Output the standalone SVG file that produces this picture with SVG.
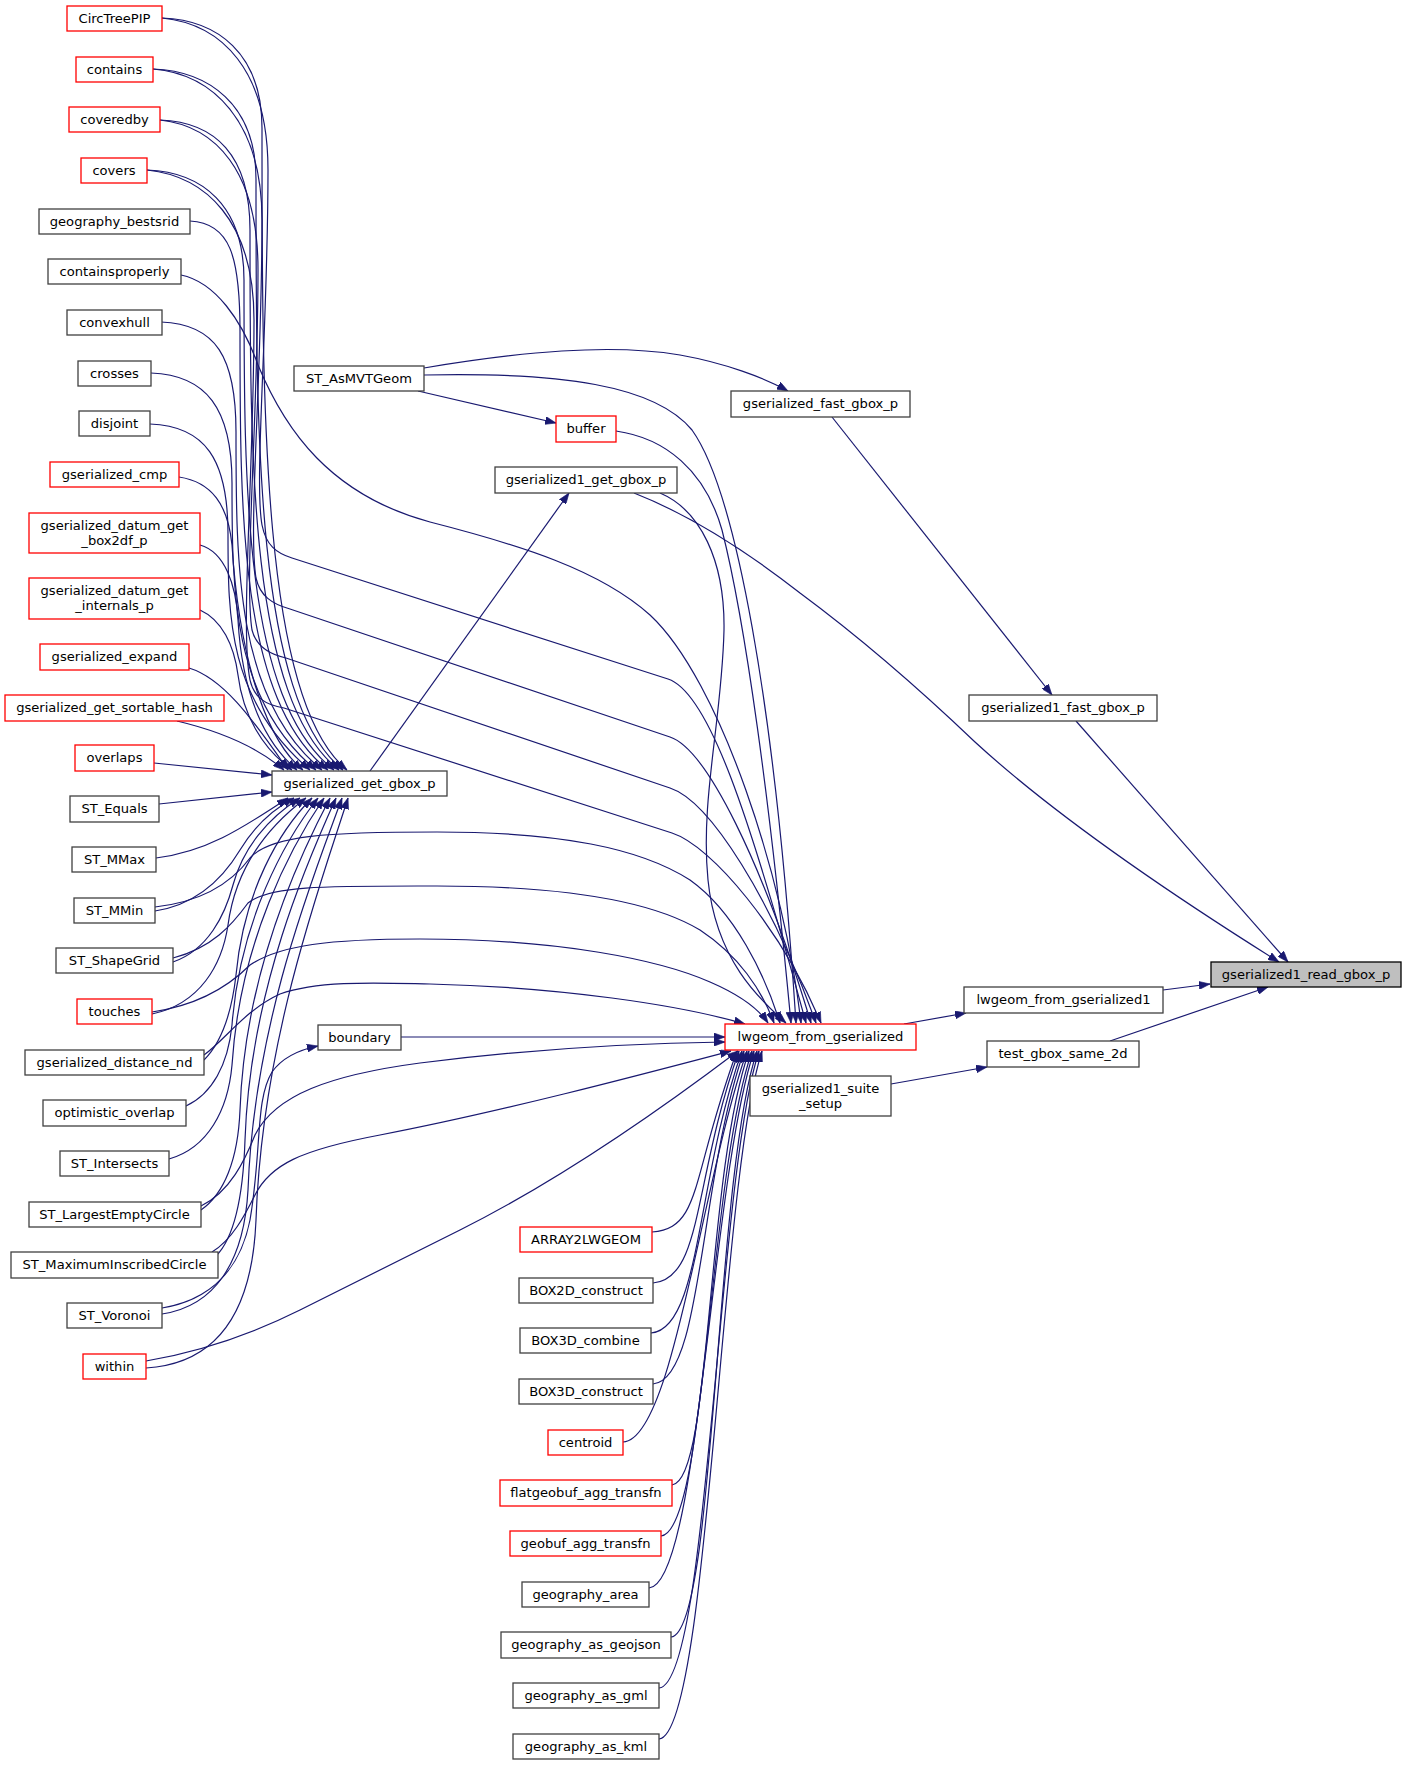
<svg xmlns="http://www.w3.org/2000/svg" width="1407" height="1765" viewBox="0 0 1407 1765">
<style>
.e{fill:none;stroke:#191970;stroke-width:1.2;marker-end:url(#ah)}
.n rect{fill:#fff;stroke:#404040;stroke-width:1.3}
.r rect{stroke:#ff0000}
.root rect{fill:#bfbfbf;stroke:#000}
text{font-family:"DejaVu Sans","Liberation Sans",sans-serif;font-size:13.1px;text-anchor:middle;fill:#000}
</style>
<defs>
<marker id="ah" markerWidth="11" markerHeight="8" refX="11" refY="4" orient="auto" markerUnits="userSpaceOnUse"><path d="M0,0 L11,4 L0,8 z" fill="#191970" stroke="#191970" stroke-width="0.6"/></marker>
</defs>
<rect width="1407" height="1765" fill="#fff"/>
<g id="edges">
<path class="e" d="M 162,18 C 217,20 262,53 262,128 C 262,414 262,700 347,770"/>
<path class="e" d="M 153,69 C 208,71 256,104 256,179 C 256,440 256,700 343,770"/>
<path class="e" d="M 160,120 C 215,122 250,155 250,230 C 250,465 250,700 339,770"/>
<path class="e" d="M 147,170 C 202,172 244,205 244,280 C 244,490 244,700 334,770"/>
<path class="e" d="M 190,221 C 230,223 240,256 240,331 C 240,515 240,700 328,770"/>
<path class="e" d="M 161,322 C 216,324 236,357 236,432 C 236,566 236,700 322,770"/>
<path class="e" d="M 151,373 C 206,375 232,408 232,483 C 232,591 232,700 316,770"/>
<path class="e" d="M 150,424 C 205,426 228,459 228,534 C 228,617 228,700 310,770"/>
<path class="e" d="M 179,477 C 212,482 228,505 232,545 C 238,640 260,735 303,770"/>
<path class="e" d="M 200,545 C 225,552 236,585 238,620 C 242,690 262,740 297,770"/>
<path class="e" d="M 200,610 C 222,620 234,645 238,675 C 243,715 262,748 292,770"/>
<path class="e" d="M 189,668 C 222,678 250,715 288,770"/>
<path class="e" d="M 177,721 C 215,730 255,745 284,770"/>
<path class="e" d="M 154,763 L 272,775"/>
<path class="e" d="M 159,804 L 272,792"/>
<path class="e" d="M 162,18 C 222,24 268,70 268,170 C 268,330 254,480 262,525 C 266,545 276,553 292,558 L 668,679 C 708,692 748,810 806,1023"/>
<path class="e" d="M 153,69 C 212,74 262,120 262,220 C 262,380 248,530 256,578 C 260,596 272,604 290,609 L 670,737 C 706,749 762,860 811,1023"/>
<path class="e" d="M 160,120 C 215,126 258,170 258,270 C 258,420 244,580 252,630 C 256,646 268,654 286,658 L 670,788 C 710,801 772,900 816,1023"/>
<path class="e" d="M 147,170 C 205,176 254,220 254,320 C 254,470 240,630 250,680 C 254,698 266,705 284,708 L 672,833 C 712,846 782,930 821,1023"/>
<path class="e" d="M 181,275 C 215,282 242,320 258,365 C 285,430 330,495 430,522 C 520,545 600,570 650,615 C 720,680 785,880 801,1023"/>
<path class="e" d="M 424,368 C 520,352 610,343 680,355 C 725,363 765,378 788,391"/>
<path class="e" d="M 418,391 L 556,423"/>
<path class="e" d="M 424,375 C 560,372 655,385 692,430 C 735,490 775,700 796,1023"/>
<path class="e" d="M 616,431 C 665,438 705,470 722,530 C 745,620 770,800 791,1023"/>
<path class="e" d="M 660,493 C 700,510 725,560 724,630 C 722,720 700,800 708,880 C 716,960 760,1000 786,1023"/>
<path class="e" d="M 634,493 C 690,515 745,550 800,593 C 850,630 910,680 975,742 C 1060,820 1180,900 1279,962"/>
<path class="e" d="M 370,771 L 569,493"/>
<path class="e" d="M 832,417 L 1052,695"/>
<path class="e" d="M 1076,721 L 1288,962"/>
<path class="e" d="M 1163,990 L 1210,984"/>
<path class="e" d="M 1110,1041 L 1268,987"/>
<path class="e" d="M 904,1024 L 966,1013"/>
<path class="e" d="M 891,1084 L 987,1067"/>
<path class="e" d="M 401,1037 L 725,1037"/>
<path class="e" d="M 155,907 C 200,902 230,885 250,858 C 270,835 330,832 437,832 C 560,832 640,848 690,880 C 735,912 765,975 780,1023"/>
<path class="e" d="M 173,958 C 212,948 232,925 248,903 C 270,885 330,886 437,886 C 560,886 650,900 700,930 C 738,955 762,990 774,1023"/>
<path class="e" d="M 152,1012 C 200,1005 230,985 250,965 C 280,945 330,939 420,939 C 560,939 660,960 710,982 C 740,995 758,1008 768,1023"/>
<path class="e" d="M 204,1055 C 225,1040 245,1010 280,994 C 320,980 380,983 430,984 C 560,987 680,1005 745,1024"/>
<path class="e" d="M 201,1206 C 230,1192 245,1160 255,1135 C 275,1095 330,1075 420,1063 C 540,1048 640,1043 725,1042"/>
<path class="e" d="M 212,1252 C 232,1240 245,1215 255,1195 C 270,1165 300,1150 380,1135 C 500,1112 640,1075 731,1051"/>
<path class="e" d="M 146,1361 C 210,1350 260,1330 300,1310 L 460,1230 C 560,1180 660,1110 738,1051"/>
<path class="e" d="M 162,1308 C 210,1300 240,1270 250,1220 C 262,1150 255,1100 272,1072 C 282,1058 298,1050 318,1046"/>
<path class="e" d="M 156,858 C 205,852 240,830 288,798"/>
<path class="e" d="M 155,911 C 200,904 225,875 240,850 C 252,830 268,812 294,798"/>
<path class="e" d="M 173,962 C 208,950 225,915 233,885 C 243,848 268,818 300,798"/>
<path class="e" d="M 152,1014 C 200,1004 222,965 228,925 C 236,865 270,825 306,798"/>
<path class="e" d="M 204,1060 C 222,1042 232,1010 236,975 C 244,890 280,830 312,798"/>
<path class="e" d="M 186,1106 C 212,1094 228,1065 232,1025 C 240,920 285,840 318,798"/>
<path class="e" d="M 169,1159 C 208,1148 228,1110 232,1065 C 240,940 292,845 324,798"/>
<path class="e" d="M 201,1210 C 224,1194 238,1160 240,1110 C 245,970 300,855 330,798"/>
<path class="e" d="M 216,1256 C 234,1238 243,1200 245,1140 C 250,990 308,860 336,798"/>
<path class="e" d="M 162,1314 C 215,1306 244,1262 248,1190 C 254,1020 316,870 342,798"/>
<path class="e" d="M 146,1368 C 212,1364 252,1320 256,1220 C 262,1040 322,880 348,798"/>
<path class="e" d="M 652,1232 C 702,1228 690,1180 737,1051"/>
<path class="e" d="M 653,1283 C 703,1279 693,1180 739,1051"/>
<path class="e" d="M 651,1333 C 701,1329 696,1180 742,1051"/>
<path class="e" d="M 653,1384 C 703,1380 699,1180 744,1051"/>
<path class="e" d="M 623,1442 C 673,1440 702,1180 747,1051"/>
<path class="e" d="M 672,1485 C 712,1481 705,1180 749,1051"/>
<path class="e" d="M 661,1536 C 706,1532 708,1180 752,1051"/>
<path class="e" d="M 649,1588 C 699,1584 711,1180 754,1051"/>
<path class="e" d="M 671,1637 C 716,1633 714,1180 757,1051"/>
<path class="e" d="M 659,1688 C 709,1684 717,1180 759,1051"/>
<path class="e" d="M 659,1739 C 709,1735 720,1180 762,1051"/>
</g>
<g id="n-CircTreePIP" class="n r"><rect x="67" y="6" width="95" height="25"/><text x="114.5" y="23">CircTreePIP</text></g>
<g id="n-contains" class="n r"><rect x="76" y="57" width="77" height="25"/><text x="114.5" y="74">contains</text></g>
<g id="n-coveredby" class="n r"><rect x="69" y="107" width="91" height="25"/><text x="114.5" y="124">coveredby</text></g>
<g id="n-covers" class="n r"><rect x="81" y="158" width="66" height="25"/><text x="114" y="175">covers</text></g>
<g id="n-geography_bestsrid" class="n"><rect x="39" y="209" width="151" height="25"/><text x="114.5" y="226">geography_bestsrid</text></g>
<g id="n-containsproperly" class="n"><rect x="48" y="259" width="133" height="25"/><text x="114.5" y="276">containsproperly</text></g>
<g id="n-convexhull" class="n"><rect x="67" y="310" width="95" height="25"/><text x="114.5" y="327">convexhull</text></g>
<g id="n-crosses" class="n"><rect x="78" y="361" width="73" height="25"/><text x="114.5" y="378">crosses</text></g>
<g id="n-disjoint" class="n"><rect x="79" y="411" width="71" height="25"/><text x="114.5" y="428">disjoint</text></g>
<g id="n-gserialized_cmp" class="n r"><rect x="50" y="462" width="129" height="25"/><text x="114.5" y="479">gserialized_cmp</text></g>
<g id="n-gserialized_datum_get_box2df_p" class="n r"><rect x="29" y="513" width="171" height="40"/><text x="114.5" y="529.5">gserialized_datum_get</text><text x="114.5" y="544.5">_box2df_p</text></g>
<g id="n-gserialized_datum_get_internals_p" class="n r"><rect x="29" y="578" width="171" height="41"/><text x="114.5" y="594.5">gserialized_datum_get</text><text x="114.5" y="609.5">_internals_p</text></g>
<g id="n-gserialized_expand" class="n r"><rect x="40" y="644" width="149" height="26"/><text x="114.5" y="661">gserialized_expand</text></g>
<g id="n-gserialized_get_sortable_hash" class="n r"><rect x="5" y="695" width="219" height="26"/><text x="114.5" y="712">gserialized_get_sortable_hash</text></g>
<g id="n-overlaps" class="n r"><rect x="75" y="745" width="79" height="26"/><text x="114.5" y="762">overlaps</text></g>
<g id="n-ST_Equals" class="n"><rect x="70" y="796" width="89" height="26"/><text x="114.5" y="813">ST_Equals</text></g>
<g id="n-ST_MMax" class="n"><rect x="72" y="847" width="84" height="25"/><text x="114.5" y="864">ST_MMax</text></g>
<g id="n-ST_MMin" class="n"><rect x="74" y="898" width="81" height="25"/><text x="114.5" y="915">ST_MMin</text></g>
<g id="n-ST_ShapeGrid" class="n"><rect x="56" y="948" width="117" height="25"/><text x="114.5" y="965">ST_ShapeGrid</text></g>
<g id="n-touches" class="n r"><rect x="77" y="999" width="75" height="25"/><text x="114.5" y="1016">touches</text></g>
<g id="n-gserialized_distance_nd" class="n"><rect x="25" y="1050" width="179" height="25"/><text x="114.5" y="1067">gserialized_distance_nd</text></g>
<g id="n-optimistic_overlap" class="n"><rect x="43" y="1100" width="143" height="26"/><text x="114.5" y="1117">optimistic_overlap</text></g>
<g id="n-ST_Intersects" class="n"><rect x="60" y="1151" width="109" height="25"/><text x="114.5" y="1168">ST_Intersects</text></g>
<g id="n-ST_LargestEmptyCircle" class="n"><rect x="29" y="1202" width="172" height="25"/><text x="114.5" y="1219">ST_LargestEmptyCircle</text></g>
<g id="n-ST_MaximumInscribedCircle" class="n"><rect x="11" y="1252" width="207" height="26"/><text x="114.5" y="1269">ST_MaximumInscribedCircle</text></g>
<g id="n-ST_Voronoi" class="n"><rect x="67" y="1303" width="95" height="25"/><text x="114.5" y="1320">ST_Voronoi</text></g>
<g id="n-within" class="n r"><rect x="83" y="1354" width="63" height="25"/><text x="114.5" y="1371">within</text></g>
<g id="n-ST_AsMVTGeom" class="n"><rect x="294" y="366" width="130" height="25"/><text x="359" y="383">ST_AsMVTGeom</text></g>
<g id="n-gserialized_get_gbox_p" class="n"><rect x="272" y="771" width="175" height="25"/><text x="359.5" y="788">gserialized_get_gbox_p</text></g>
<g id="n-boundary" class="n"><rect x="318" y="1025" width="83" height="25"/><text x="359.5" y="1042">boundary</text></g>
<g id="n-buffer" class="n r"><rect x="556" y="416" width="60" height="26"/><text x="586" y="433">buffer</text></g>
<g id="n-gserialized1_get_gbox_p" class="n"><rect x="495" y="467" width="182" height="26"/><text x="586" y="484">gserialized1_get_gbox_p</text></g>
<g id="n-ARRAY2LWGEOM" class="n r"><rect x="520" y="1227" width="132" height="25"/><text x="586" y="1244">ARRAY2LWGEOM</text></g>
<g id="n-BOX2D_construct" class="n"><rect x="519" y="1278" width="134" height="25"/><text x="586" y="1295">BOX2D_construct</text></g>
<g id="n-BOX3D_combine" class="n"><rect x="520" y="1328" width="131" height="25"/><text x="585.5" y="1345">BOX3D_combine</text></g>
<g id="n-BOX3D_construct" class="n"><rect x="519" y="1379" width="134" height="25"/><text x="586" y="1396">BOX3D_construct</text></g>
<g id="n-centroid" class="n r"><rect x="548" y="1430" width="75" height="25"/><text x="585.5" y="1447">centroid</text></g>
<g id="n-flatgeobuf_agg_transfn" class="n r"><rect x="500" y="1480" width="172" height="26"/><text x="586" y="1497">flatgeobuf_agg_transfn</text></g>
<g id="n-geobuf_agg_transfn" class="n r"><rect x="510" y="1531" width="151" height="25"/><text x="585.5" y="1548">geobuf_agg_transfn</text></g>
<g id="n-geography_area" class="n"><rect x="522" y="1582" width="127" height="25"/><text x="585.5" y="1599">geography_area</text></g>
<g id="n-geography_as_geojson" class="n"><rect x="501" y="1632" width="170" height="26"/><text x="586" y="1649">geography_as_geojson</text></g>
<g id="n-geography_as_gml" class="n"><rect x="513" y="1683" width="146" height="25"/><text x="586" y="1700">geography_as_gml</text></g>
<g id="n-geography_as_kml" class="n"><rect x="513" y="1734" width="146" height="25"/><text x="586" y="1751">geography_as_kml</text></g>
<g id="n-gserialized_fast_gbox_p" class="n"><rect x="731" y="391" width="179" height="26"/><text x="820.5" y="408">gserialized_fast_gbox_p</text></g>
<g id="n-lwgeom_from_gserialized" class="n r"><rect x="725" y="1024" width="191" height="26"/><text x="820.5" y="1041">lwgeom_from_gserialized</text></g>
<g id="n-gserialized1_suite_setup" class="n"><rect x="750" y="1076" width="141" height="40"/><text x="820.5" y="1092.5">gserialized1_suite</text><text x="820.5" y="1107.5">_setup</text></g>
<g id="n-gserialized1_fast_gbox_p" class="n"><rect x="969" y="695" width="188" height="26"/><text x="1063" y="712">gserialized1_fast_gbox_p</text></g>
<g id="n-lwgeom_from_gserialized1" class="n"><rect x="964" y="987" width="199" height="26"/><text x="1063.5" y="1004">lwgeom_from_gserialized1</text></g>
<g id="n-test_gbox_same_2d" class="n"><rect x="987" y="1041" width="152" height="26"/><text x="1063" y="1058">test_gbox_same_2d</text></g>
<g id="n-gserialized1_read_gbox_p" class="n root"><rect x="1211" y="962" width="190" height="25"/><text x="1306" y="979">gserialized1_read_gbox_p</text></g>
</svg>
